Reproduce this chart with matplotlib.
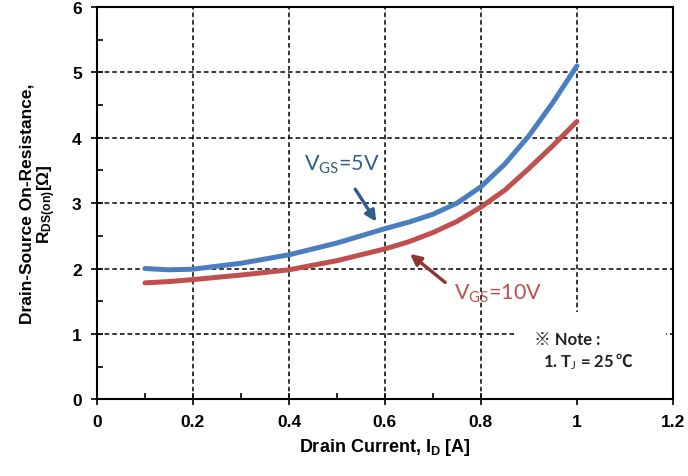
import matplotlib
matplotlib.use('Agg')
import matplotlib.pyplot as plt
from matplotlib.patches import Rectangle
from matplotlib.ticker import MultipleLocator

# values
drain_current = [0.1, 0.15, 0.2, 0.3, 0.4, 0.5, 0.6, 0.65, 0.7, 0.75, 0.8, 0.85, 0.9, 0.95, 1.0]
rds_vgs5 = [2.0, 1.98, 1.99, 2.08, 2.21, 2.39, 2.61, 2.71, 2.83, 3.0, 3.25, 3.6, 4.03, 4.54, 5.1]
rds_vgs10 = [1.78, 1.80, 1.83, 1.90, 1.98, 2.12, 2.30, 2.41, 2.55, 2.72, 2.94, 3.2, 3.53, 3.88, 4.25]
x_ticks = [0, 0.2, 0.4, 0.6, 0.8, 1.0, 1.2]
x_tick_labels = ['0', '0.2', '0.4', '0.6', '0.8', '1', '1.2']
y_ticks = [0, 1, 2, 3, 4, 5, 6]

plt.rcParams['mathtext.fontset'] = 'custom'
plt.rcParams['mathtext.rm'] = 'Lato'
plt.rcParams['mathtext.bf'] = 'Liberation Sans:bold'
plt.rcParams['mathtext.default'] = 'rm'

fig = plt.figure(figsize=(6.88, 4.77), dpi=100)
ax = fig.add_axes([0.141, 0.161, 0.837, 0.822])

ax.plot(drain_current, rds_vgs5, color='#4A7EBF', lw=3.6, solid_capstyle='round', zorder=3)
ax.plot(drain_current, rds_vgs10, color='#C0504D', lw=3.6, solid_capstyle='round', zorder=3)

ax.set_xlim(0, 1.2)
ax.set_ylim(0, 6)
ax.set_xticks(x_ticks)
ax.set_xticklabels(x_tick_labels)
ax.set_yticks(y_ticks)
ax.xaxis.set_minor_locator(MultipleLocator(0.1))
ax.yaxis.set_minor_locator(MultipleLocator(0.5))
ax.tick_params(which='major', direction='inout', length=8, width=1.2, pad=7)
ax.tick_params(which='minor', direction='in', length=4, width=1.2)
for lab in ax.get_xticklabels() + ax.get_yticklabels():
    lab.set_family('Liberation Sans')
    lab.set_weight('bold')
    lab.set_fontsize(12.5)

ax.set_axisbelow(True)
ax.grid(True, which='major', color='black', linestyle=(0, (3, 2)), lw=1.1)
for sp in ax.spines.values():
    sp.set_linewidth(1.5)

# white box behind the note
ax.add_patch(Rectangle((0.875, 0.02), 0.31, 1.31, facecolor='white', edgecolor='none', zorder=1))

ax.set_xlabel('Drain Current, I$\\mathbf{_D}$ [A]', family='Liberation Sans',
              weight='bold', fontsize=13, labelpad=5)
ax.set_ylabel('Drain-Source On-Resistance,\n$\\mathbf{R_{DS(on)}}$[Ω]', family='Liberation Sans',
              weight='bold', fontsize=12.5, labelpad=10, linespacing=1.1)

ax.annotate('', xy=(0.585, 2.68), xytext=(0.535, 3.25),
            arrowprops=dict(arrowstyle='-|>', color='#2F5E8C', lw=2.4, mutation_scale=16), zorder=4)
ax.text(0.51, 3.6, 'V$_{GS}$=5V', color='#2F5E8C', family='Lato', fontsize=15.5,
        ha='center', va='center', zorder=4)

ax.annotate('', xy=(0.648, 2.25), xytext=(0.73, 1.76),
            arrowprops=dict(arrowstyle='-|>', color='#8E3533', lw=2.4, mutation_scale=16), zorder=4)
ax.text(0.835, 1.63, 'V$_{GS}$=10V', color='#C0504D', family='Lato', fontsize=15.5,
        ha='center', va='center', zorder=4)

note_font = ['Lato', 'Noto Sans CJK JP', 'DejaVu Sans']
ax.text(0.91, 0.92, '※ Note :', family=note_font, weight='bold', fontsize=12,
        ha='left', va='center', color='#222222', zorder=4)
t_note = ax.text(0.93, 0.5, '1. T$_J$ = 25', family='Lato', weight='bold', fontsize=12,
                 ha='left', va='baseline', color='#222222', zorder=4)
ax.annotate('℃', xy=(1.0, 0.0), xycoords=t_note, xytext=(0.5, 1), textcoords='offset points',
            family='Noto Sans CJK JP', weight='bold', fontsize=12, ha='left', va='bottom',
            color='#222222', zorder=4)

fig.savefig('out.png', dpi=100)
